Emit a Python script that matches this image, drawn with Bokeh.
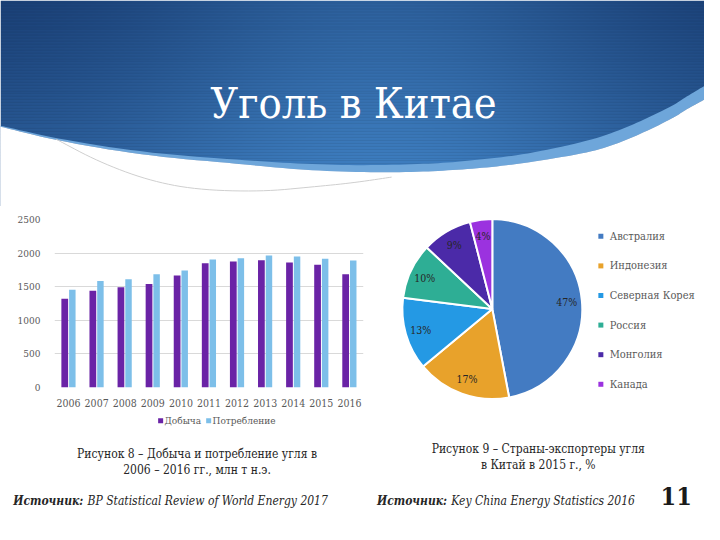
import numpy as np
from bokeh.plotting import figure
from bokeh.models import Range1d, FactorRange, ColumnDataSource
from bokeh.layouts import column, row
from bokeh.transform import dodge
from bokeh.core.properties import value
from bokeh.embed import file_html
from bokeh.resources import INLINE

# ---------------- data ----------------
years = ["2006", "2007", "2008", "2009", "2010", "2011", "2012", "2013", "2014", "2015", "2016"]
production = [1320, 1440, 1490, 1540, 1665, 1850, 1875, 1895, 1860, 1825, 1685]
consumption = [1455, 1585, 1610, 1685, 1740, 1905, 1925, 1965, 1950, 1915, 1890]
y_ticks = [0, 500, 1000, 1500, 2000, 2500]
series_names = ["Добыча", "Потребление"]
series_colors = ["#6a23a6", "#7dbfe9"]

countries = ["Австралия", "Индонезия", "Северная Корея", "Россия", "Монголия", "Канада"]
shares = [47, 17, 13, 10, 9, 4]
pie_colors = ["#437bc2", "#e8a22b", "#2499e4", "#2eae95", "#4b2aa8", "#9b32df"]

title_text = "Уголь в Китае"
caption_left = ["Рисунок 8 – Добыча и потребление угля в", "2006 – 2016 гг., млн т н.э."]
caption_right = ["Рисунок 9 – Страны-экспортеры угля", "в Китай в 2015 г., %"]
source_label = "Источник:"
source_left = "BP Statistical Review of World Energy 2017"
source_right = "Key China Energy Statistics 2016"
page_number = "11"

SERIF = "DejaVu Serif Condensed"

SX = 704 / 720.0
SY = 524 / 540.0
HDR_H, BAR_H, LEG_H, CAP_H = 206, 203, 27, 88
ROW_H = BAR_H + LEG_H
BAR_W, PIE_W = 390, 314
y_hdr = HDR_H / SY
y_bar = (HDR_H + BAR_H) / SY
y_row = (HDR_H + ROW_H) / SY
x_split = BAR_W / SX


def blank(w, h, xr, yr):
    p = figure(width=w, height=h, x_range=xr, y_range=yr, output_backend="svg",
               toolbar_location=None, min_border=0, title=None)
    p.axis.visible = False
    p.grid.visible = False
    p.outline_line_color = None
    p.background_fill_color = "white"
    p.border_fill_color = "white"
    return p


def smooth(pts, it=3):
    pts = np.asarray(pts, dtype=float)
    for _ in range(it):
        new = [pts[0]]
        for a, b in zip(pts[:-1], pts[1:]):
            new.append(0.75 * a + 0.25 * b)
            new.append(0.25 * a + 0.75 * b)
        new.append(pts[-1])
        pts = np.array(new)
    return pts[:, 0], pts[:, 1]


# ---------------- header ----------------
hdr = blank(704, HDR_H, Range1d(0, 720), Range1d(-y_hdr, 0))
H, W = 214, 720
py = (H - np.arange(H) - 0.5)[:, None]
px = (np.arange(W) + 0.5)[None, :]
f = 0.45 * np.clip(py / 175.0, 0, 1) + 0.55 * np.exp(-((px - 390) / 260.0) ** 2)
f = np.clip(f, 0, 1)
dark = np.array([24, 60, 114])
light = np.array([62, 126, 192])
rgb = dark[None, None, :] * (1 - f[..., None]) + light[None, None, :] * f[..., None]
stripe = ((np.floor(py) % 3) == 0).astype(float)
rgb = rgb * (1 - 0.07 * stripe[..., None])
img = np.zeros((H, W), dtype=np.uint32)
view = img.view(dtype=np.uint8).reshape((H, W, 4))
view[..., 0] = rgb[..., 0].astype(np.uint8)
view[..., 1] = rgb[..., 1].astype(np.uint8)
view[..., 2] = rgb[..., 2].astype(np.uint8)
view[..., 3] = 255
hdr.image_rgba(image=[img], x=0, y=-H, dw=W, dh=H)

band_bottom = [(0, 130), (60, 145), (150, 160), (240, 168), (300, 174), (360, 177), (420, 177),
               (460, 175), (500, 172), (540, 167), (600, 157), (630, 148), (660, 135), (690, 120),
               (700, 113), (720, 102)]
band_top = [(0, 129), (60, 143), (150, 157), (240, 164), (300, 168), (360, 170), (420, 169),
            (460, 167), (500, 163), (540, 158), (600, 145), (630, 135), (660, 122), (690, 107),
            (700, 100), (720, 88)]
bx, by = smooth(band_bottom)
tx, ty = smooth(band_top)
hdr.patch(list(tx) + list(bx[::-1]), list(-ty) + list(-by[::-1]),
          fill_color="#6ea6da", line_color=None)
hdr.patch(list(bx) + [720, 0], list(-by) + [-y_hdr - 2, -y_hdr - 2], fill_color="white", line_color=None)
gray = [(57, 143), (100, 166), (150, 185), (200, 195), (267, 197), (320, 192), (360, 188), (400, 182)]
gx, gy = smooth(gray)
hdr.line(gx, -gy, line_color="#cfcfcf", line_width=1)
hdr.text(x=[361], y=[-106], text=[title_text], text_align="center", text_baseline="middle",
         text_font=value(SERIF), text_font_size="43px", text_color="white")

# ---------------- bar chart ----------------
pb = figure(width=BAR_W, height=BAR_H, x_range=FactorRange(*years), y_range=Range1d(0, 2500),
            output_backend="svg", toolbar_location=None, title=None)
pb.min_border_left = 54
pb.min_border_right = 27
pb.min_border_top = 13
pb.min_border_bottom = 22
pb.outline_line_color = None
pb.background_fill_color = "white"
pb.border_fill_color = "white"
src = ColumnDataSource(dict(years=years, production=production, consumption=consumption))
pb.vbar(x=dodge("years", -0.135, range=pb.x_range), top="production", width=0.24,
        source=src, fill_color=series_colors[0], line_color=None)
pb.vbar(x=dodge("years", 0.135, range=pb.x_range), top="consumption", width=0.23,
        source=src, fill_color=series_colors[1], line_color=None)
pb.yaxis.ticker = y_ticks
pb.xgrid.visible = False
pb.ygrid.grid_line_color = "#d9d9d9"
pb.ygrid.level = "underlay"
for ax in (pb.xaxis[0], pb.yaxis[0]):
    ax.axis_line_color = None
    ax.major_tick_line_color = None
    ax.minor_tick_line_color = None
    ax.major_label_text_font = SERIF
    ax.major_label_text_color = "#595959"
pb.yaxis.major_label_text_font_size = "10px"
pb.xaxis.major_label_text_font_size = "10.5px"
pb.yaxis.major_label_standoff = 8
pb.xaxis.major_label_standoff = 5

# legend strip under the bar chart
pl = blank(BAR_W, LEG_H, Range1d(0, x_split), Range1d(-y_row, -y_bar))
lsrc = ColumnDataSource(dict(x=[137.0, 199.0], tx=[142.0, 204.0], y=[-433.0, -433.0],
                             name=series_names, color=series_colors))
pl.scatter(x="x", y="y", marker="square", size=5, fill_color="color", line_color=None, source=lsrc)
pl.text(x="tx", y="y", text="name", source=lsrc, text_align="left", text_baseline="middle",
        text_font=value(SERIF), text_font_size="10px", text_color="#595959")

# ---------------- pie chart ----------------
pp = blank(PIE_W, ROW_H, Range1d(x_split, 720), Range1d(-y_row, -y_hdr))
fr = np.array(shares, dtype=float) / sum(shares)
cum = np.concatenate([[0.0], np.cumsum(fr)])
start = np.pi / 2 - 2 * np.pi * cum[:-1]
end = np.pi / 2 - 2 * np.pi * cum[1:]
cx, cy, rad = 503, -318, 92
mid = (start + end) / 2
psrc = ColumnDataSource(dict(start=start, end=end, color=pie_colors, country=countries,
                             label=[f"{s}%" for s in shares],
                             lx=cx + 0.83 * rad * np.cos(mid), ly=cy + 0.83 * rad * np.sin(mid),
                             gx=[614.0] * len(countries),
                             gy=[-(243 + 30.5 * i) for i in range(len(countries))],
                             tx=[623.0] * len(countries)))
pp.wedge(x=cx, y=cy, radius=rad, start_angle="start", end_angle="end", direction="clock",
         fill_color="color", line_color="white", line_width=2, source=psrc)
pp.text(x="lx", y="ly", text="label", source=psrc, text_align="center", text_baseline="middle",
        text_font=value(SERIF), text_font_size="10.5px", text_color="#262626")
pp.scatter(x="gx", y="gy", marker="square", size=5, fill_color="color", line_color=None, source=psrc)
pp.text(x="tx", y="gy", text="country", source=psrc, text_align="left", text_baseline="middle",
        text_font=value(SERIF), text_font_size="11px", text_color="#595959")

# ---------------- captions ----------------
pc = blank(704, CAP_H, Range1d(0, 720), Range1d(-540, -y_row))
base = dict(text_baseline="middle", text_color="#262626", text_font=value(SERIF))
pc.text(x=[201, 201], y=[-467, -484], text=caption_left, text_align="center",
        text_font_size="12px", **base)
pc.text(x=[550, 550], y=[-462, -479], text=caption_right, text_align="center",
        text_font_size="12px", **base)
pc.text(x=[13, 385], y=[-516, -516], text=[source_label, source_label], text_align="left",
        text_font_size="12px", text_font_style="bold italic", **base)
pc.text(x=[89, 461], y=[-516, -516], text=[source_left, source_right], text_align="left",
        text_font_size="12px", text_font_style="italic", **base)
pc.text(x=[691], y=[-511], text=[page_number], text_align="center", text_font_size="25px",
        text_font_style="bold", text_font=value(SERIF), text_baseline="middle",
        text_color="#1a1a1a")

layout = column(hdr, row(column(pb, pl, spacing=0), pp, spacing=0), pc, spacing=0)
open("out.html", "w").write(file_html(layout, INLINE))
